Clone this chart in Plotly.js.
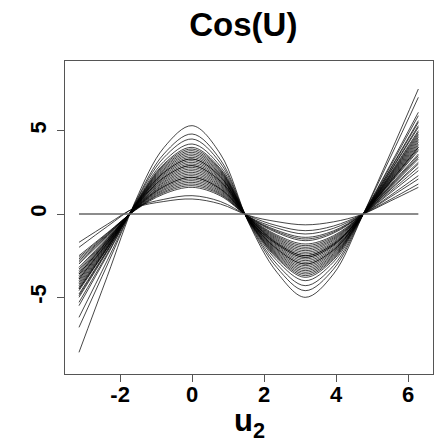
<!DOCTYPE html>
<html>
<head>
<meta charset="utf-8">
<script src="https://cdn.plot.ly/plotly-3.0.1.min.js"></script>
<style>html,body{margin:0;padding:0;background:#fff;}#chart{width:440px;height:447px;}</style>
</head>
<body>
<div id="chart"></div>
<script>
// u2 grid: -pi .. 2pi in steps of pi/4
const u2 = [-3.1416, -2.3562, -1.5708, -0.7854, 0, 0.7854, 1.5708, 2.3562, 3.1416, 3.9270, 4.7124, 5.4978, 6.2832];

// estimated fitted curves (values at the u2 grid)
const fit01 = [-8.3, -3.74, 0.8, 3.98, 5.3, 3.6, -0.53, -3.5, -5.0, -3.6, -0.2, 3.6, 7.5];
const fit02 = [-6.8, -3.06, 0.72, 3.6, 4.8, 3.26, -0.48, -3.22, -4.6, -3.31, -0.18, 3.36, 7.0];
const fit03 = [-6.2, -2.79, 0.68, 3.38, 4.5, 3.06, -0.45, -3.01, -4.3, -3.1, -0.17, 2.93, 6.1];
const fit04 = [-5.5, -2.48, 0.63, 3.15, 4.2, 2.86, -0.42, -2.8, -4.0, -2.88, -0.16, 2.83, 5.9];
const fit05 = [-5.3, -2.39, 0.6, 3.0, 4.0, 2.72, -0.4, -2.66, -3.8, -2.74, -0.15, 2.64, 5.5];
const fit06 = [-4.5, -2.03, 0.59, 2.93, 3.9, 2.65, -0.39, -2.59, -3.7, -2.66, -0.15, 2.69, 5.6];
const fit07 = [-5.0, -2.25, 0.57, 2.85, 3.8, 2.58, -0.38, -2.45, -3.5, -2.52, -0.14, 2.5, 5.2];
const fit08 = [-4.8, -2.16, 0.54, 2.7, 3.6, 2.45, -0.36, -2.38, -3.4, -2.45, -0.14, 2.4, 5.0];
const fit09 = [-4.2, -1.89, 0.53, 2.63, 3.5, 2.38, -0.35, -2.31, -3.3, -2.38, -0.13, 2.54, 5.3];
const fit10 = [-4.6, -2.07, 0.51, 2.55, 3.4, 2.31, -0.34, -2.24, -3.2, -2.3, -0.13, 2.3, 4.8];
const fit11 = [-4.9, -2.2, 0.5, 2.48, 3.3, 2.24, -0.33, -2.1, -3.0, -2.16, -0.12, 2.16, 4.5];
const fit12 = [-4.0, -1.8, 0.48, 2.4, 3.2, 2.18, -0.32, -2.17, -3.1, -2.23, -0.12, 2.21, 4.6];
const fit13 = [-4.4, -1.98, 0.47, 2.33, 3.1, 2.11, -0.31, -2.03, -2.9, -2.09, -0.12, 2.06, 4.3];
const fit14 = [-3.8, -1.71, 0.45, 2.25, 3.0, 2.04, -0.3, -1.96, -2.8, -2.02, -0.11, 2.11, 4.4];
const fit15 = [-4.1, -1.85, 0.44, 2.18, 2.9, 1.97, -0.29, -1.89, -2.7, -1.94, -0.11, 1.92, 4.0];
const fit16 = [-3.6, -1.62, 0.42, 2.1, 2.8, 1.9, -0.28, -1.82, -2.6, -1.87, -0.1, 2.02, 4.2];
const fit17 = [-3.9, -1.76, 0.41, 2.03, 2.7, 1.84, -0.27, -1.75, -2.5, -1.8, -0.1, 1.82, 3.8];
const fit18 = [-3.4, -1.53, 0.39, 1.95, 2.6, 1.77, -0.26, -1.68, -2.4, -1.73, -0.1, 1.92, 4.0];
const fit19 = [-3.7, -1.67, 0.38, 1.88, 2.5, 1.7, -0.25, -1.61, -2.3, -1.66, -0.09, 1.73, 3.6];
const fit20 = [-3.2, -1.44, 0.36, 1.8, 2.4, 1.63, -0.24, -1.54, -2.2, -1.58, -0.09, 1.68, 3.5];
const fit21 = [-3.5, -1.58, 0.35, 1.73, 2.3, 1.56, -0.23, -1.47, -2.1, -1.51, -0.08, 1.58, 3.3];
const fit22 = [-3.0, -1.35, 0.33, 1.65, 2.2, 1.5, -0.22, -1.4, -2.0, -1.44, -0.08, 1.63, 3.4];
const fit23 = [-2.9, -1.31, 0.32, 1.58, 2.1, 1.43, -0.21, -1.33, -1.9, -1.37, -0.08, 1.49, 3.1];
const fit24 = [-3.3, -1.49, 0.3, 1.5, 2.0, 1.36, -0.2, -1.26, -1.8, -1.3, -0.07, 1.44, 3.0];
const fit25 = [-2.7, -1.22, 0.29, 1.43, 1.9, 1.29, -0.19, -1.12, -1.6, -1.15, -0.06, 1.34, 2.8];
const fit26 = [-2.6, -1.17, 0.27, 1.35, 1.8, 1.22, -0.18, -1.05, -1.5, -1.08, -0.06, 1.25, 2.6];
const fit27 = [-2.8, -1.26, 0.26, 1.28, 1.7, 1.16, -0.17, -0.98, -1.4, -1.01, -0.06, 1.1, 2.3];
const fit28 = [-2.5, -1.13, 0.24, 1.2, 1.6, 1.09, -0.16, -0.84, -1.2, -0.86, -0.05, 1.01, 2.1];
const fit29 = [-2.0, -0.75, 0.4, 0.88, 1.1, 0.75, -0.11, -0.7, -1.0, -0.72, -0.04, 0.86, 1.8];
const fit30 = [-1.7, -0.62, 0.38, 0.75, 0.9, 0.6, -0.09, -0.46, -0.65, -0.47, -0.03, 0.77, 1.6];
const fit31 = [-4.3, -1.94, 0.56, 2.78, 3.7, 2.52, -0.37, -2.52, -3.6, -2.59, -0.14, 2.35, 4.9];
const fit32 = [-4.5, -2.03, 0.44, 2.18, 2.9, 1.97, -0.29, -2.1, -3.0, -2.16, -0.12, 2.26, 4.7];
const fit33 = [-3.6, -1.62, 0.5, 2.48, 3.3, 2.24, -0.33, -1.82, -2.6, -1.87, -0.1, 1.87, 3.9];
const fit34 = [-3.9, -1.76, 0.33, 1.65, 2.2, 1.5, -0.22, -1.75, -2.5, -1.8, -0.1, 1.97, 4.1];

const fits = [fit01, fit02, fit03, fit04, fit05, fit06, fit07, fit08, fit09, fit10,
  fit11, fit12, fit13, fit14, fit15, fit16, fit17, fit18, fit19, fit20,
  fit21, fit22, fit23, fit24, fit25, fit26, fit27, fit28, fit29, fit30,
  fit31, fit32, fit33, fit34];

const refLineY = [0, 0];
const xTicks = [-2, 0, 2, 4, 6];
const yTicks = [-5, 0, 5];
const titleText = 'Cos(U)';
const xLabel = 'u<sub>2</sub>';

const traces = fits.map(v => ({
  x: u2, y: v, type: 'scatter', mode: 'lines',
  line: {color: 'rgba(0,0,0,0.72)', width: 1, shape: 'spline', smoothing: 1},
  hoverinfo: 'skip'
}));
traces.push({
  x: [u2[0], u2[u2.length - 1]], y: refLineY, type: 'scatter', mode: 'lines',
  line: {color: '#666', width: 1.5}, hoverinfo: 'skip'
});

const fontFam = '"Liberation Sans", Arial, Helvetica, sans-serif';
const layout = {
  width: 440, height: 447,
  margin: {l: 65, r: 7, t: 61, b: 73},
  paper_bgcolor: '#fff', plot_bgcolor: '#fff',
  showlegend: false,
  title: {
    text: '<b>' + titleText + '</b>',
    font: {family: fontFam, size: 33, color: '#000'},
    x: 0.553, xref: 'container', xanchor: 'center',
    y: 0.945, yref: 'container', yanchor: 'middle'
  },
  xaxis: {
    range: [-3.53, 6.69], tickvals: xTicks, ticktext: xTicks.map(String),
    ticks: 'outside', ticklen: 7, tickcolor: '#555', tickwidth: 1,
    ticklabelstandoff: -7,
    showline: true, mirror: true, linecolor: '#555', linewidth: 1.2,
    showgrid: false, zeroline: false,
    tickfont: {family: fontFam, size: 22, color: '#000', weight: 'bold'}
  },
  yaxis: {
    range: [-9.6, 9.18], tickvals: yTicks, ticktext: yTicks.map(String),
    tickangle: -90,
    ticks: 'outside', ticklen: 7, tickcolor: '#555', tickwidth: 1,
    ticklabelstandoff: 2,
    showline: true, mirror: true, linecolor: '#555', linewidth: 1.2,
    showgrid: false, zeroline: false,
    tickfont: {family: fontFam, size: 22, color: '#000', weight: 'bold'}
  },
  annotations: [{
    text: xLabel, showarrow: false,
    xref: 'paper', x: 0.5, xanchor: 'center',
    yref: 'paper', y: 0, yanchor: 'top', yshift: -27,
    font: {family: fontFam, size: 31, color: '#000', weight: 'bold'}
  }]
};

Plotly.newPlot('chart', traces, layout, {staticPlot: true, displayModeBar: false});
</script>
</body>
</html>
